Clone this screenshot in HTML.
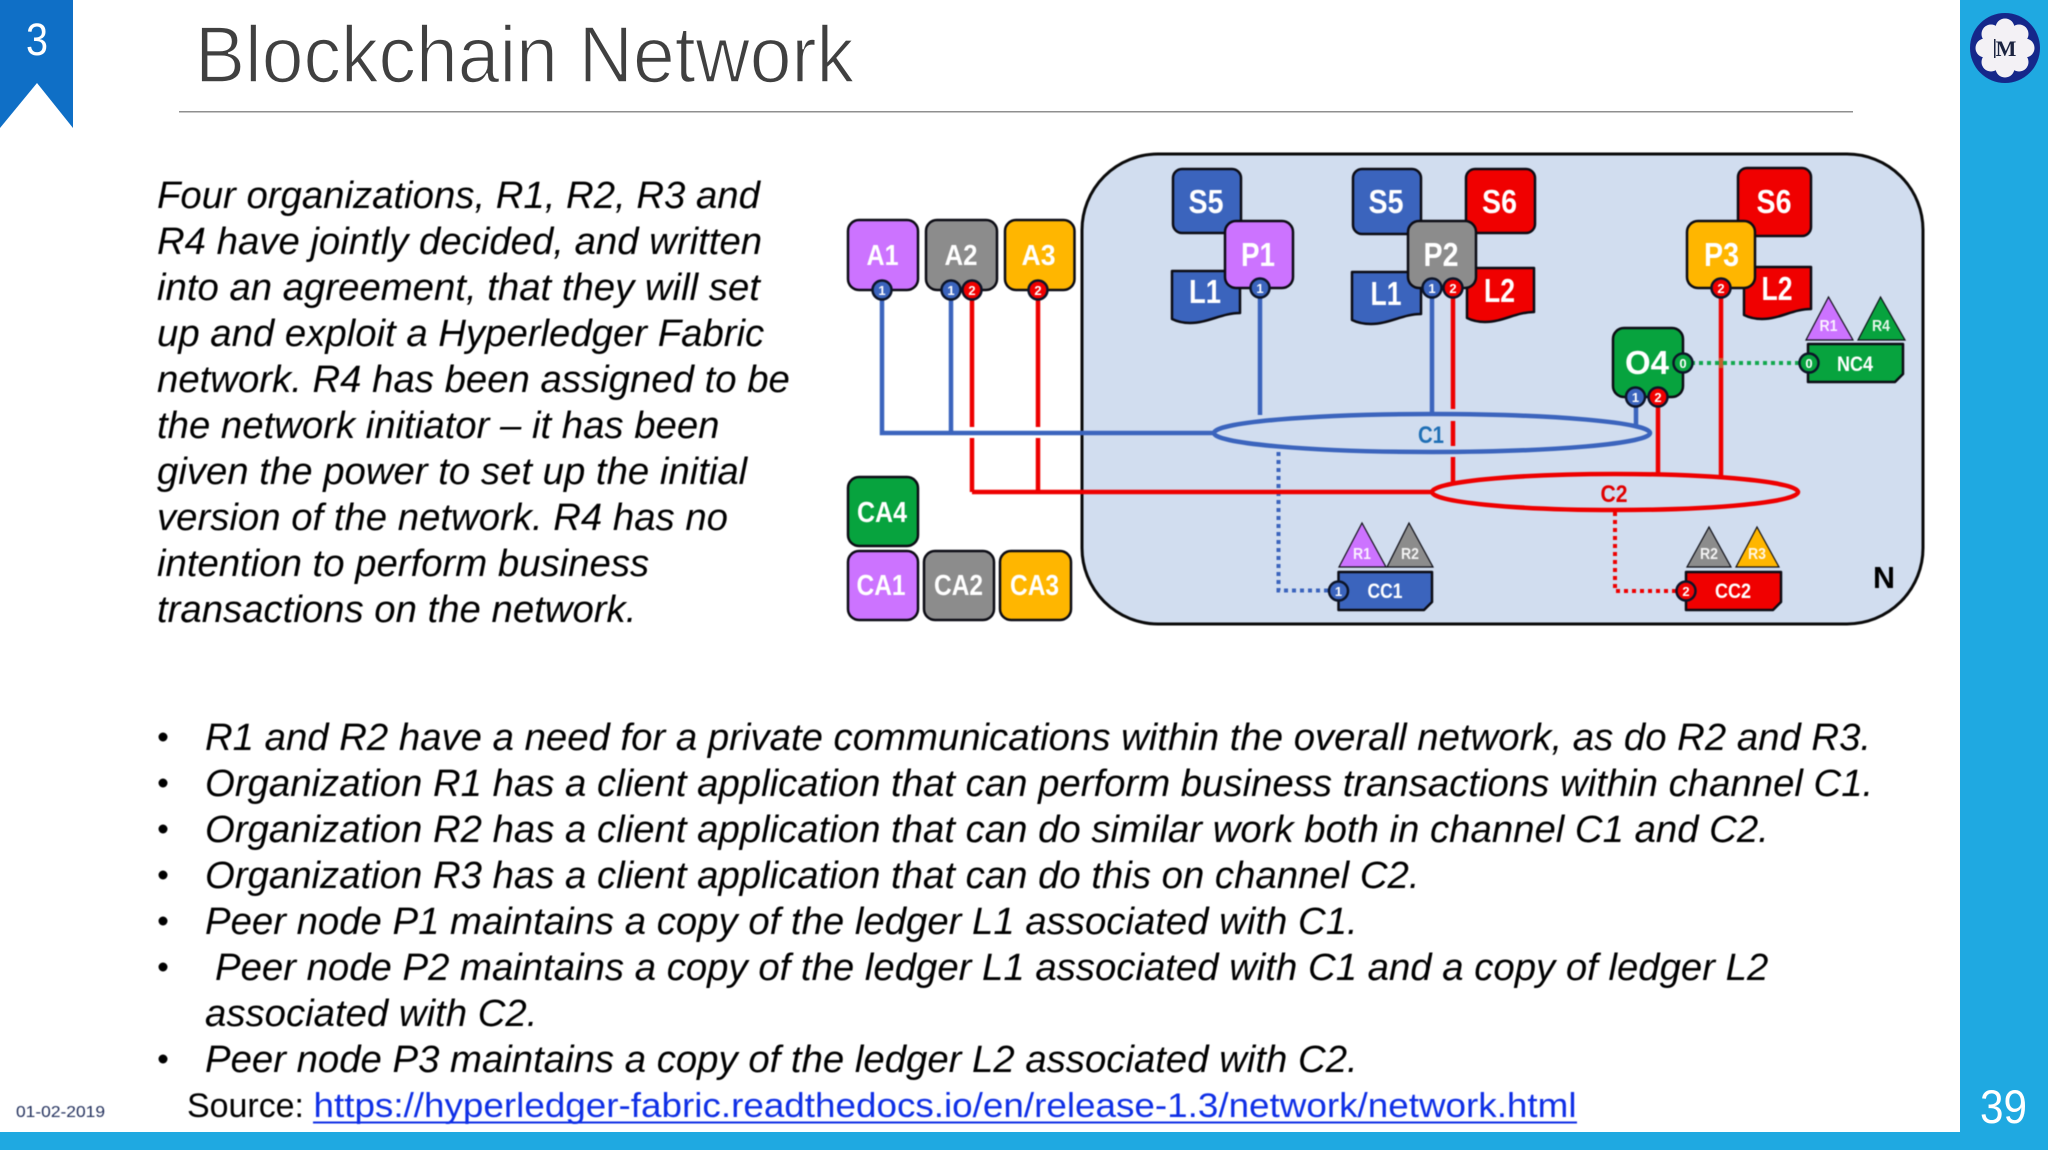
<!DOCTYPE html>
<html><head><meta charset="utf-8"><title>Blockchain Network</title>
<style>
html,body{margin:0;padding:0;background:#fff;width:2048px;height:1152px;overflow:hidden}
svg{display:block}
text{font-family:"Liberation Sans",sans-serif}
.it text{font-style:italic;font-size:38.35px;fill:#000}
.n text{font-weight:bold;fill:#fff;text-anchor:middle;font-size:31px}
.bd text{font-weight:bold;fill:#fff;font-size:13px;text-anchor:middle}
.bd circle{stroke:#0c1428;stroke-width:2.5}
.s{stroke:#0c0c14;stroke-width:2.5;stroke-linejoin:round}
.tr{stroke:#0c0c14;stroke-width:1.2;stroke-linejoin:miter}
.t text{font-weight:bold;fill:#fff;text-anchor:middle;font-size:16px;opacity:.9}
.soft{filter:blur(.45px)}
</style></head><body>
<svg width="2048" height="1152" viewBox="0 0 2048 1152" xmlns="http://www.w3.org/2000/svg">
<rect width="2048" height="1152" fill="#fff"/>
<!-- side and bottom bars -->
<rect x="1960" y="0" width="88" height="1150" fill="#1fa9e1"/>
<rect x="0" y="1132" width="2048" height="18" fill="#1fa9e1"/>
<!-- logo -->
<circle cx="2005" cy="48" r="35" fill="#15278a"/>
<g fill="#f3f1f5"><circle cx="2005" cy="28" r="9.5"/><circle cx="2005" cy="68" r="9.5"/><circle cx="1985" cy="48" r="9.5"/><circle cx="2025" cy="48" r="9.5"/><circle cx="1991" cy="34" r="9.5"/><circle cx="2019" cy="34" r="9.5"/><circle cx="1991" cy="62" r="9.5"/><circle cx="2019" cy="62" r="9.5"/><circle cx="2005" cy="48" r="17"/></g>
<text x="2006" y="56" font-size="22" font-weight="bold" text-anchor="middle" fill="#1b2440" style="font-family:'Liberation Serif',serif">M</text>
<rect x="1994" y="39" width="1.5" height="19" fill="#1b2440"/>
<!-- banner -->
<rect x="0" y="0" width="73" height="128" fill="#0f6fc6"/>
<polygon points="37,83 73,128 0,128" fill="#fff"/>
<text x="37" y="55" font-size="45" text-anchor="middle" fill="#fff" textLength="22" lengthAdjust="spacingAndGlyphs">3</text>
<!-- title -->
<text x="195" y="82" font-size="80" fill="#404040" stroke="#fff" stroke-width="1.6" textLength="659" lengthAdjust="spacingAndGlyphs">Blockchain Network</text>
<rect x="179" y="111" width="1674" height="1.5" fill="#8f8f8f"/>
<g class="soft">
<!-- paragraph -->
<g class="it">
<text x="157" y="208">Four organizations, R1, R2, R3 and</text>
<text x="157" y="254">R4 have jointly decided, and written</text>
<text x="157" y="300">into an agreement, that they will set</text>
<text x="157" y="346">up and exploit a Hyperledger Fabric</text>
<text x="157" y="392">network. R4 has been assigned to be</text>
<text x="157" y="438">the network initiator – it has been</text>
<text x="157" y="484">given the power to set up the initial</text>
<text x="157" y="530">version of the network. R4 has no</text>
<text x="157" y="576">intention to perform business</text>
<text x="157" y="622">transactions on the network.</text>
<!-- bullets -->
<text x="205" y="750">R1 and R2 have a need for a private communications within the overall network, as do R2 and R3.</text>
<text x="205" y="796">Organization R1 has a client application that can perform business transactions within channel C1.</text>
<text x="205" y="842">Organization R2 has a client application that can do similar work both in channel C1 and C2.</text>
<text x="205" y="888">Organization R3 has a client application that can do this on channel C2.</text>
<text x="205" y="934">Peer node P1 maintains a copy of the ledger L1 associated with C1.</text>
<text x="215" y="980">Peer node P2 maintains a copy of the ledger L1 associated with C1 and a copy of ledger L2</text>
<text x="205" y="1026">associated with C2.</text>
<text x="205" y="1072">Peer node P3 maintains a copy of the ledger L2 associated with C2.</text>
</g>
<g fill="#000"><circle cx="163" cy="737" r="4.5"/><circle cx="163" cy="783" r="4.5"/><circle cx="163" cy="829" r="4.5"/><circle cx="163" cy="875" r="4.5"/><circle cx="163" cy="921" r="4.5"/><circle cx="163" cy="967" r="4.5"/><circle cx="163" cy="1059" r="4.5"/></g>
<!-- source -->
<text x="187" y="1117" font-size="34" fill="#000" textLength="117" lengthAdjust="spacingAndGlyphs">Source:</text>
<text x="313.5" y="1117" font-size="34" fill="#0f2fe6" textLength="1263" lengthAdjust="spacingAndGlyphs">https://hyperledger-fabric.readthedocs.io/en/release-1.3/network/network.html</text>
<rect x="313" y="1121.5" width="1264" height="2" fill="#0f2fe6"/>
<text x="16" y="1117" font-size="16" fill="#1f2d5a" textLength="89" lengthAdjust="spacingAndGlyphs">01-02-2019</text>
</g>
<text x="1980" y="1123" font-size="47" fill="#fff" textLength="47" lengthAdjust="spacingAndGlyphs">39</text>

<g class="soft">
<!-- network -->
<rect x="1082" y="154" width="841" height="470" rx="76" ry="76" fill="#d1ddef" stroke="#0a0a0a" stroke-width="3"/>
<!-- connectors -->
<g fill="none" stroke="#3b64bd" stroke-width="4.5">
<path d="M882 290V433H1214"/><path d="M951 290V433"/><path d="M1260 288V415"/><path d="M1432 288V414"/><path d="M1636 397V425"/>
<ellipse cx="1432" cy="433" rx="218" ry="19"/>
<path d="M1278.5 452V590.5H1329" stroke-width="4" stroke-dasharray="4 4"/>
</g>
<g fill="none" stroke="#ee0000" stroke-width="4.5">
<path d="M972 290V427M972 438V492M1038 290V427M1038 438V492M972 492H1432"/>
<path d="M1453 288V409M1453 421V446M1453 457V482"/>
<path d="M1658 397V474M1721 288V476"/>
<ellipse cx="1615" cy="492" rx="183" ry="18"/>
<path d="M1615 512V591H1686" stroke-width="4" stroke-dasharray="4 4"/>
</g>
<path d="M1683 363H1808" fill="none" stroke="#12a84e" stroke-width="4" stroke-dasharray="4 4"/>
<path d="M1721 358V368" stroke="#c8602a" stroke-width="4"/>
<!-- shapes back -->
<g class="s">
<rect x="1173" y="169" width="68" height="64" rx="9" fill="#3b64bd"/>
<path d="M1172 271H1240V313C1222 313 1208 323 1190 323C1183 323 1178 322 1172 319Z" fill="#3b64bd"/>
<rect x="1353" y="169" width="68" height="65" rx="9" fill="#3b64bd"/>
<path d="M1352 272H1421V314C1403 314 1389 324 1371 324C1364 324 1358 323 1352 320Z" fill="#3b64bd"/>
<rect x="1466" y="169" width="69" height="64" rx="9" fill="#f00000"/>
<path d="M1467 268H1534V312C1516 312 1503 322 1485 322C1478 322 1473 321 1467 318Z" fill="#f00000"/>
<rect x="1738" y="168" width="73" height="68" rx="9" fill="#f00000"/>
<path d="M1744 267H1811V309C1793 309 1780 319 1762 319C1755 319 1750 318 1744 315Z" fill="#f00000"/>
<!-- orgs -->
<rect x="848" y="220" width="70" height="70" rx="11" fill="#cc73ff"/>
<rect x="926" y="220" width="71" height="70" rx="11" fill="#8c8c8c"/>
<rect x="1005" y="220" width="69.5" height="70" rx="11" fill="#ffb600"/>
<rect x="848" y="477" width="70" height="69" rx="11" fill="#07a33e"/>
<rect x="848" y="551" width="70" height="69" rx="11" fill="#cc73ff"/>
<rect x="924" y="551" width="70" height="69" rx="11" fill="#8c8c8c"/>
<rect x="1000" y="551" width="71" height="69" rx="11" fill="#ffb600"/>
<rect x="1225" y="221" width="68" height="67" rx="11" fill="#cc73ff"/>
<rect x="1408" y="221" width="68" height="67" rx="11" fill="#8c8c8c"/>
<rect x="1687" y="221" width="68" height="67" rx="11" fill="#ffb600"/>
<rect x="1613" y="328" width="70" height="69" rx="11" fill="#07a33e"/>
<!-- contract docs -->
<path d="M1338.5 572H1432V602L1424 610H1338.5Z" fill="#3b64bd"/>
<path d="M1686 572H1781V602L1773 610H1686Z" fill="#f00000"/>
<path d="M1808 344H1903V374L1895 382H1808Z" fill="#07a33e"/>
</g>
<!-- triangles -->
<g class="tr">
<polygon points="1362,523 1339,567 1386,567" fill="#cc73ff"/>
<polygon points="1409,523 1387,567 1433,567" fill="#8c8c8c"/>
<polygon points="1828.5,297 1806,340 1853,340" fill="#cc73ff"/>
<polygon points="1880.5,297 1858,340 1905,340" fill="#07a33e"/>
<polygon points="1709,527 1687,567 1731,567" fill="#8c8c8c"/>
<polygon points="1757,527 1736,567 1779,567" fill="#ffb600"/>
</g>
<!-- labels -->
<g class="n">
<text x="882.5" y="265" style="font-size:29px" textLength="32" lengthAdjust="spacingAndGlyphs">A1</text>
<text x="961" y="265" style="font-size:29px" textLength="33" lengthAdjust="spacingAndGlyphs">A2</text>
<text x="1038.5" y="265" style="font-size:29px" textLength="34" lengthAdjust="spacingAndGlyphs">A3</text>
<text x="882" y="522" style="font-size:29px" textLength="50" lengthAdjust="spacingAndGlyphs">CA4</text>
<text x="881" y="595" style="font-size:29px" textLength="49" lengthAdjust="spacingAndGlyphs">CA1</text>
<text x="958.5" y="595" style="font-size:29px" textLength="49" lengthAdjust="spacingAndGlyphs">CA2</text>
<text x="1034.5" y="595" style="font-size:29px" textLength="49" lengthAdjust="spacingAndGlyphs">CA3</text>
<text x="1206" y="213" style="font-size:33px" textLength="35" lengthAdjust="spacingAndGlyphs">S5</text>
<text x="1386" y="213" style="font-size:33px" textLength="35" lengthAdjust="spacingAndGlyphs">S5</text>
<text x="1499.5" y="213" style="font-size:33px" textLength="35" lengthAdjust="spacingAndGlyphs">S6</text>
<text x="1774" y="213" style="font-size:33px" textLength="35" lengthAdjust="spacingAndGlyphs">S6</text>
<text x="1258" y="266" style="font-size:33px" textLength="34" lengthAdjust="spacingAndGlyphs">P1</text>
<text x="1441" y="266" style="font-size:33px" textLength="35" lengthAdjust="spacingAndGlyphs">P2</text>
<text x="1721.5" y="266" style="font-size:33px" textLength="35" lengthAdjust="spacingAndGlyphs">P3</text>
<text x="1205" y="303" style="font-size:33px" textLength="32" lengthAdjust="spacingAndGlyphs">L1</text>
<text x="1386" y="305" style="font-size:33px" textLength="31" lengthAdjust="spacingAndGlyphs">L1</text>
<text x="1499.5" y="302" style="font-size:33px" textLength="31" lengthAdjust="spacingAndGlyphs">L2</text>
<text x="1777" y="300" style="font-size:33px" textLength="31" lengthAdjust="spacingAndGlyphs">L2</text>
<text x="1647" y="374" style="font-size:33px" textLength="44" lengthAdjust="spacingAndGlyphs">O4</text>
<text x="1855" y="371" style="font-size:21px" textLength="36" lengthAdjust="spacingAndGlyphs">NC4</text>
<text x="1385" y="598" style="font-size:21px" textLength="35" lengthAdjust="spacingAndGlyphs">CC1</text>
<text x="1733" y="598" style="font-size:21px" textLength="36" lengthAdjust="spacingAndGlyphs">CC2</text>
<text x="1431" y="443" style="font-size:24px;fill:#1f6fb5" textLength="26" lengthAdjust="spacingAndGlyphs">C1</text>
<text x="1614" y="502" style="font-size:24px;fill:#e00000" textLength="27" lengthAdjust="spacingAndGlyphs">C2</text>
<text x="1884" y="588" style="font-size:31px;fill:#000" textLength="22" lengthAdjust="spacingAndGlyphs">N</text>
</g>
<g class="t">
<text x="1362" y="559" textLength="18" lengthAdjust="spacingAndGlyphs">R1</text>
<text x="1410" y="559" textLength="18" lengthAdjust="spacingAndGlyphs">R2</text>
<text x="1828.5" y="331" textLength="18" lengthAdjust="spacingAndGlyphs">R1</text>
<text x="1881" y="331" textLength="18" lengthAdjust="spacingAndGlyphs">R4</text>
<text x="1709" y="559" textLength="18" lengthAdjust="spacingAndGlyphs">R2</text>
<text x="1757" y="559" textLength="18" lengthAdjust="spacingAndGlyphs">R3</text>
</g>
<!-- badges -->
<g class="bd">
<circle cx="882" cy="290" r="9.5" fill="#3b64bd"/><text x="882" y="295">1</text>
<circle cx="951" cy="290" r="9.5" fill="#3b64bd"/><text x="951" y="295">1</text>
<circle cx="972" cy="290" r="9.5" fill="#f00000"/><text x="972" y="295">2</text>
<circle cx="1038" cy="290" r="9.5" fill="#f00000"/><text x="1038" y="295">2</text>
<circle cx="1260" cy="288" r="9.5" fill="#3b64bd"/><text x="1260" y="293">1</text>
<circle cx="1432" cy="288" r="9.5" fill="#3b64bd"/><text x="1432" y="293">1</text>
<circle cx="1453" cy="288" r="9.5" fill="#f00000"/><text x="1453" y="293">2</text>
<circle cx="1721" cy="288" r="9.5" fill="#f00000"/><text x="1721" y="293">2</text>
<circle cx="1683" cy="363" r="9.5" fill="#07a33e"/><text x="1683" y="368">0</text>
<circle cx="1635.5" cy="397" r="9.5" fill="#3b64bd"/><text x="1635.5" y="402">1</text>
<circle cx="1658" cy="397" r="9.5" fill="#f00000"/><text x="1658" y="402">2</text>
<circle cx="1809" cy="363" r="9.5" fill="#07a33e"/><text x="1809" y="368">0</text>
<circle cx="1338.5" cy="591" r="9.5" fill="#3b64bd"/><text x="1338.5" y="596">1</text>
<circle cx="1686" cy="591" r="9.5" fill="#f00000"/><text x="1686" y="596">2</text>
</g>
</g>
</svg>
</body></html>
